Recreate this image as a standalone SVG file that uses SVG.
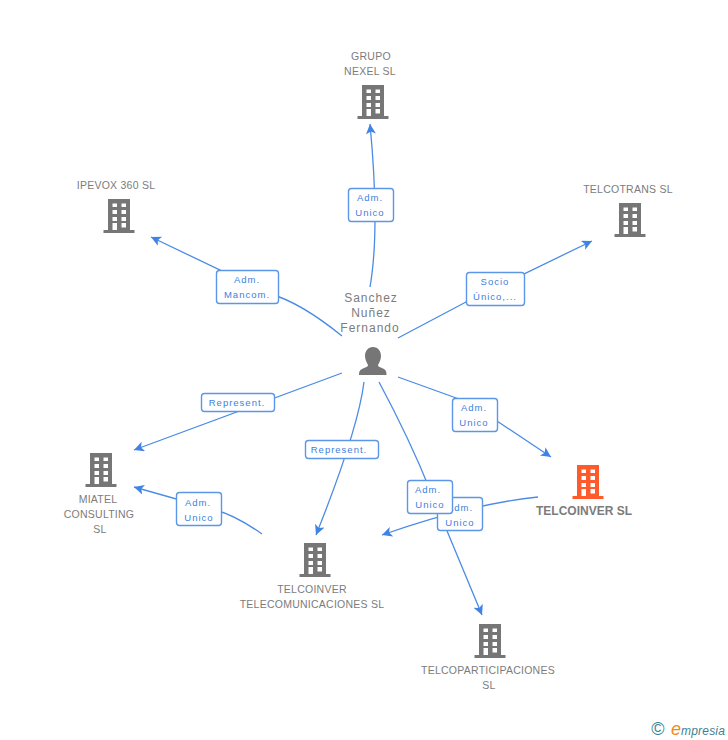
<svg xmlns="http://www.w3.org/2000/svg" width="728" height="740" viewBox="0 0 728 740">
<style>
text{font-family:"Liberation Sans",Arial,sans-serif}
.n{font-size:10.5px;fill:#7c7c7c;text-anchor:middle;letter-spacing:.25px}
.p{font-size:12px;fill:#7c7c7c;text-anchor:middle;letter-spacing:1px}
.l{font-size:9.500px;fill:#3b7fe0;text-anchor:middle;letter-spacing:1px}
.c{fill:none;stroke:#4a8be6;stroke-width:1.3}
.b{fill:#fff;stroke:#5b96e8;stroke-width:1.4}
</style>
<defs>
<marker id="a" markerUnits="userSpaceOnUse" markerWidth="12" markerHeight="12" refX="10" refY="5" orient="auto"><path d="M0 0L10 5L0 10L2.5 5Z" fill="#3f84e5"/></marker>
<g id="bld"><path fill-rule="evenodd" fill="#767676" d="M-11 0H11V31H15.500V34H-15.500V31H-11ZM-6.500 4.500V8H-2V4.500ZM2.500 4.500V8H7V4.500ZM-6.500 11V15H-2V11ZM2.500 11V15H7V11ZM-6.500 18V22H-2V18ZM2.500 18V22H7V18ZM-6.500 24V31H-2V24ZM2.500 24V28.500H7V24Z"/></g>
<g id="bldo"><path fill-rule="evenodd" fill="#ff5a2c" d="M-11 0H11V31H15.500V34H-15.500V31H-11ZM-6.500 4.500V8H-2V4.500ZM2.500 4.500V8H7V4.500ZM-6.500 11V15H-2V11ZM2.500 11V15H7V11ZM-6.500 18V22H-2V18ZM2.500 18V22H7V18ZM-6.500 24V31H-2V24ZM2.500 24V28.500H7V24Z"/></g>
</defs>
<rect width="728" height="740" fill="#fff"/>
<g id="connectors">
<path class="c" marker-end="url(#a)" d="M370 287Q380 230 370 124"/>
<path class="c" marker-end="url(#a)" d="M342 336Q300 302 270 294L151 237"/>
<path class="c" marker-end="url(#a)" d="M398 338L466 302L592 241"/>
<path class="c" marker-end="url(#a)" d="M398 377L470 403L551 457"/>
<path class="c" marker-end="url(#a)" d="M342 373L134 450"/>
<path class="c" marker-end="url(#a)" d="M364 382Q358 430 316 535"/>
<path class="c" marker-end="url(#a)" d="M379 382Q410 440 430 490L482 615"/>
<path class="c" marker-end="url(#a)" d="M538 497Q470 504 382 535"/>
<path class="c" marker-end="url(#a)" d="M262 534Q235 515 215 510L134 487"/>
</g>
<g id="edge-labels">
<g><rect class="b" x="348.500" y="188.500" width="45" height="33" rx="3"/><text class="l" x="370" y="201">Adm.</text><text class="l" x="370" y="216">Unico</text></g>
<g><rect class="b" x="216.500" y="270.500" width="62" height="33" rx="3"/><text class="l" x="247" y="283">Adm.</text><text class="l" x="247" y="298">Mancom.</text></g>
<g><rect class="b" x="466.500" y="272.500" width="58" height="33" rx="3"/><text class="l" x="495" y="285">Socio</text><text class="l" x="495" y="300">Único,...</text></g>
<g><rect class="b" x="452.500" y="398.500" width="45" height="33" rx="3"/><text class="l" x="474" y="411">Adm.</text><text class="l" x="474" y="426">Unico</text></g>
<g><rect class="b" x="201.500" y="393.500" width="73" height="18" rx="3"/><text class="l" x="237" y="406">Represent.</text></g>
<g><rect class="b" x="305.500" y="440.500" width="73" height="18" rx="3"/><text class="l" x="339" y="453">Represent.</text></g>
<g><rect class="b" x="437.500" y="497.500" width="45" height="33" rx="3"/><text class="l" x="460" y="511">Adm.</text><text class="l" x="460" y="526">Unico</text></g>
<g><rect class="b" x="407.500" y="480.500" width="45" height="33" rx="3"/><text class="l" x="428" y="493">Adm.</text><text class="l" x="430" y="508">Unico</text></g>
<g><rect class="b" x="176.500" y="492.500" width="45" height="33" rx="3"/><text class="l" x="198" y="506">Adm.</text><text class="l" x="199" y="521">Unico</text></g>
</g>
<g id="node-grupo"><use href="#bld" x="373" y="85"/><text class="n" x="371" y="60">GRUPO</text><text class="n" x="370" y="75">NEXEL SL</text></g>
<g id="node-ipevox"><use href="#bld" x="119" y="199"/><text class="n" x="116" y="189">IPEVOX 360 SL</text></g>
<g id="node-telcotrans"><use href="#bld" x="630" y="203"/><text class="n" x="628" y="193">TELCOTRANS SL</text></g>
<g id="node-person"><text class="p" x="371" y="302">Sanchez</text><text class="p" x="371" y="317">Nuñez</text><text class="p" x="370" y="332">Fernando</text>
<path fill="#767676" d="M373 347C378 347 381 351 381 356C381 360 379 363 378 365C378 367 380 367 384 369C386 370 386.500 372 386.500 375H359C359 372 359.500 370 362 369C366 367 368 367 368 365C367 363 365 360 365 356C365 351 368 347 373 347Z"/></g>
<g id="node-miatel"><use href="#bld" x="101" y="453"/><text class="n" x="98" y="503">MIATEL</text><text class="n" x="99" y="518">CONSULTING</text><text class="n" x="100" y="533">SL</text></g>
<g id="node-telcoinver"><use href="#bldo" x="588" y="465"/><text x="584" y="515" font-size="12" font-weight="bold" fill="#7c7c7c" text-anchor="middle">TELCOINVER SL</text></g>
<g id="node-telecom"><use href="#bld" x="315" y="543"/><text class="n" x="312" y="593">TELCOINVER</text><text class="n" x="312" y="608">TELECOMUNICACIONES SL</text></g>
<g id="node-part"><use href="#bld" x="490" y="624"/><text class="n" x="488" y="674">TELCOPARTICIPACIONES</text><text class="n" x="489" y="689">SL</text></g>
<g id="brand"><text x="658" y="735" font-size="18" fill="#3f7f96" text-anchor="middle">©</text>
<text x="671" y="735" font-size="18" font-style="italic" fill="#f08a1d" font-family="Liberation Serif,serif">e</text><text x="681" y="735" font-size="12" font-style="italic" fill="#3f7f96" letter-spacing=".2">mpresia</text></g>
</svg>
